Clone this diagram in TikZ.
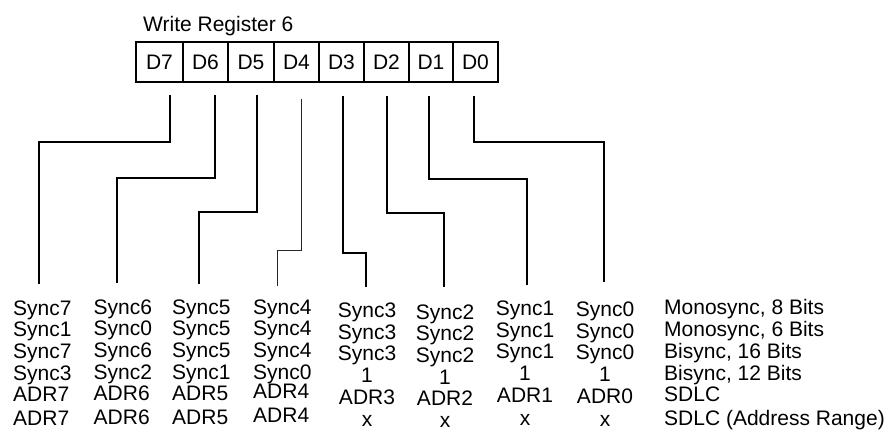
\documentclass[tikz,border=0pt]{standalone}
\usepackage{fontspec}
\setmainfont{Liberation Sans}
\begin{document}
\begin{tikzpicture}[x=1pt,y=-1pt,
  txt/.style={inner sep=0pt,font=\fontsize{21}{25}\selectfont},
  cell/.style={draw,line width=1.3pt,inner sep=0pt,minimum height=40pt,font=\fontsize{21}{25}\selectfont},
  wire/.style={line width=1.3pt,line join=miter},
  thinwire/.style={line width=0.8pt,black!85}]
\useasboundingbox (0,0) rectangle (891,430);
% title
\node[txt,anchor=base west] (title) at (143,32) {Write Register 6};
% register cells
\node[cell,minimum width=47pt] (d7) at (159.5,62) {D7};
\node[cell,minimum width=45pt] (d6) at (205.5,62) {D6};
\node[cell,minimum width=46pt] (d5) at (251,62) {D5};
\node[cell,minimum width=45pt] (d4) at (296.5,62) {D4};
\node[cell,minimum width=45pt] (d3) at (341.5,62) {D3};
\node[cell,minimum width=45pt] (d2) at (386.5,62) {D2};
\node[cell,minimum width=44pt] (d1) at (431,62) {D1};
\node[cell,minimum width=45pt] (d0) at (475.5,62) {D0};
% connector end points
\coordinate (s7) at (170,95);  \coordinate (e7) at (39,284);
\coordinate (s6) at (215,95);  \coordinate (e6) at (117,283);
\coordinate (s5) at (257,95);  \coordinate (e5) at (199,284);
\coordinate (s4) at (301,99);  \coordinate (e4) at (277,286);
\coordinate (s3) at (343,96);  \coordinate (e3) at (366,287);
\coordinate (s2) at (387,96);  \coordinate (e2) at (444,287);
\coordinate (s1) at (429,96);  \coordinate (e1) at (527,285);
\coordinate (s0) at (474,96);  \coordinate (e0) at (604,282);
\draw[wire] (s7) |- (39,142) -- (e7);
\draw[wire] (s6) |- (117,178) -- (e6);
\draw[wire] (s5) |- (199,212) -- (e5);
\draw[thinwire] (s4) |- (277,250) -- (e4);
\draw[wire] (s3) |- (366,253) -- (e3);
\draw[wire] (s2) |- (444,213) -- (e2);
\draw[wire] (s1) |- (527,179) -- (e1);
\draw[wire] (s0) |- (604,142) -- (e0);
% columns
\foreach \t [count=\i] in {Sync7,Sync1,Sync7,Sync3,ADR7,ADR7}{
  \pgfmathsetmacro\yy{{0,315,336.5,358,380,401.5,425}[\i]}
  \node[txt,anchor=base west] (ca\i) at (13,\yy) {\t};}
\foreach \t [count=\i] in {Sync6,Sync0,Sync6,Sync2,ADR6,ADR6}{
  \pgfmathsetmacro\yy{{0,315,336.5,358,380,401.5,425}[\i]-1}
  \node[txt,anchor=base west] (cb\i) at (93.5,\yy) {\t};}
\foreach \t [count=\i] in {Sync5,Sync5,Sync5,Sync1,ADR5,ADR5}{
  \pgfmathsetmacro\yy{{0,315,336.5,358,380,401.5,425}[\i]-1}
  \node[txt,anchor=base west] (cc\i) at (172,\yy) {\t};}
\foreach \t [count=\i] in {Sync4,Sync4,Sync4,Sync0,ADR4,ADR4}{
  \pgfmathsetmacro\yy{{0,315,336.5,358,380,399.5,423}[\i]-1}
  \node[txt,anchor=base west] (cd\i) at (253,\yy) {\t};}
\foreach \t [count=\i] in {Sync3,Sync3,Sync3,1,ADR3,x}{
  \pgfmathsetmacro\yy{{0,315,336.5,358,380,401.5,424}[\i]+2.5}
  \node[txt,anchor=base] (ce\i) at (367,\yy) {\t};}
\foreach \t [count=\i] in {Sync2,Sync2,Sync2,1,ADR2,x}{
  \pgfmathsetmacro\yy{{0,315,336.5,358,380,401.5,423}[\i]+4}
  \node[txt,anchor=base] (cf\i) at (445,\yy) {\t};}
\foreach \t [count=\i] in {Sync1,Sync1,Sync1,1,ADR1,x}{
  \pgfmathsetmacro\yy{{0,315,336.5,358,380,401.5,425}[\i]+0.5}
  \node[txt,anchor=base] (cg\i) at (525,\yy) {\t};}
\foreach \t [count=\i] in {Sync0,Sync0,Sync0,1,ADR0,x}{
  \pgfmathsetmacro\yy{{0,315,336.5,358,380,401.5,425}[\i]+1.5}
  \node[txt,anchor=base] (ch\i) at (605,\yy) {\t};}
% mode labels
\node[txt,anchor=base west] (m1) at (664,314) {Monosync, 8 Bits};
\node[txt,anchor=base west] (m2) at (664,336) {Monosync, 6 Bits};
\node[txt,anchor=base west] (m3) at (664,358) {Bisync, 16 Bits};
\node[txt,anchor=base west] (m4) at (664,380) {Bisync, 12 Bits};
\node[txt,anchor=base west] (m5) at (664,401.5) {SDLC};
\node[txt,anchor=base west] (m6) at (664,425) {SDLC (Address Range)};
\end{tikzpicture}
\end{document}
